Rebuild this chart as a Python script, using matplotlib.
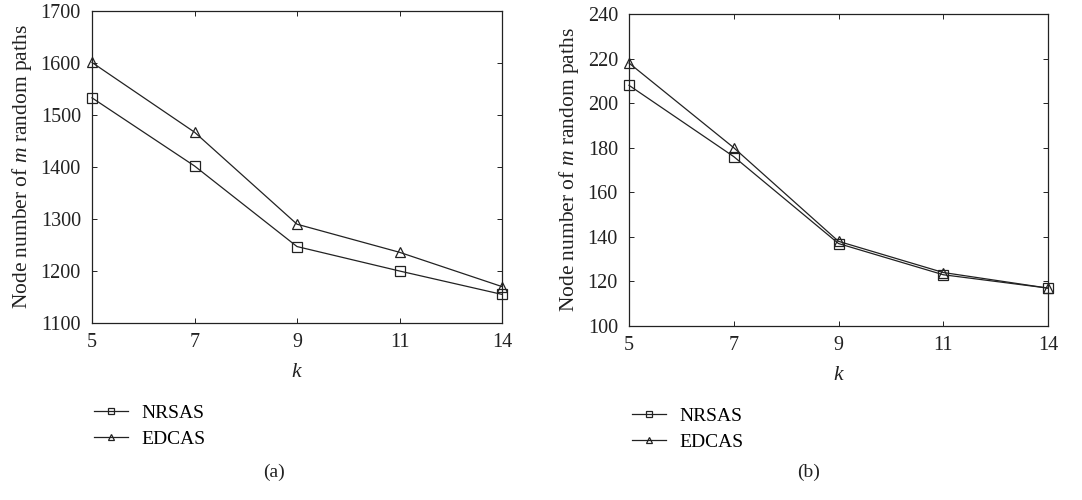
import matplotlib
matplotlib.use("Agg")
import matplotlib.pyplot as plt

plt.rcParams['font.family'] = ['Liberation Serif', 'DejaVu Serif']
plt.rcParams['mathtext.fontset'] = 'custom'
plt.rcParams['mathtext.it'] = 'Liberation Serif:italic'
plt.rcParams['mathtext.rm'] = 'Liberation Serif'

k_labels = ["5", "7", "9", "11", "14"]
nrsas_a = [1533, 1402, 1247, 1200, 1155]
edcas_a = [1601, 1467, 1290, 1236, 1170]
nrsas_b = [208, 176, 137, 123, 117]
edcas_b = [218, 180, 138, 124, 117]
yticks_a = [1100, 1200, 1300, 1400, 1500, 1600, 1700]
yticks_b = [100, 120, 140, 160, 180, 200, 220, 240]

W, H = 1082, 500
fig = plt.figure(figsize=(W / 100, H / 100), dpi=100)

def make(ax_rect, nr, ed, yticks, legx, legy, cap, capx):
    ax = fig.add_axes(ax_rect)
    x = list(range(len(k_labels)))
    c = '#222222'
    l1, = ax.plot(x, nr, color=c, lw=0.9, marker='s', ms=7.5, mfc='none', mec=c, mew=0.9,
                  label='NRSAS', clip_on=False, zorder=3)
    l2, = ax.plot(x, ed, color=c, lw=0.9, marker='^', ms=7, mfc='none', mec=c, mew=0.9,
                  label='EDCAS', clip_on=False, zorder=3)
    ax.set_xlim(0, len(k_labels) - 1)
    ax.set_xticks(x)
    ax.set_xticklabels(k_labels)
    ax.set_ylim(yticks[0], yticks[-1])
    ax.set_yticks(yticks)
    ax.tick_params(axis='both', direction='in', labelsize=14.5, length=3.5, width=0.7, colors='#222222')
    ax.tick_params(axis='y', right=True, pad=8)
    ax.tick_params(axis='x', top=True, pad=7)
    for s in ax.spines.values():
        s.set_linewidth(0.9)
        s.set_color('#222222')
    ax.set_ylabel('Node number of $m$ random paths', fontsize=15.5, color='#222222', labelpad=5)
    ax.set_xlabel('$k$', fontsize=15.5, color='#222222', labelpad=8)
    fig.legend(handles=[l1, l2], loc='center left', bbox_to_anchor=(legx / W, 1 - legy / H),
               frameon=False, fontsize=14, handlelength=1.75, labelspacing=0.45,
               borderaxespad=0, borderpad=0, handletextpad=0.7, markerscale=0.6)
    fig.text(capx / W, 1 - 472 / H, cap, ha='center', va='center', fontsize=14, color='#222222')

make([92 / W, 1 - 323 / H, 410 / W, 312 / H], nrsas_a, edcas_a, yticks_a, 94, 426, '(a)', 274)
make([629 / W, 1 - 326 / H, 419 / W, 312 / H], nrsas_b, edcas_b, yticks_b, 632, 429, '(b)', 809)

fig.savefig('out.png', dpi=100)
